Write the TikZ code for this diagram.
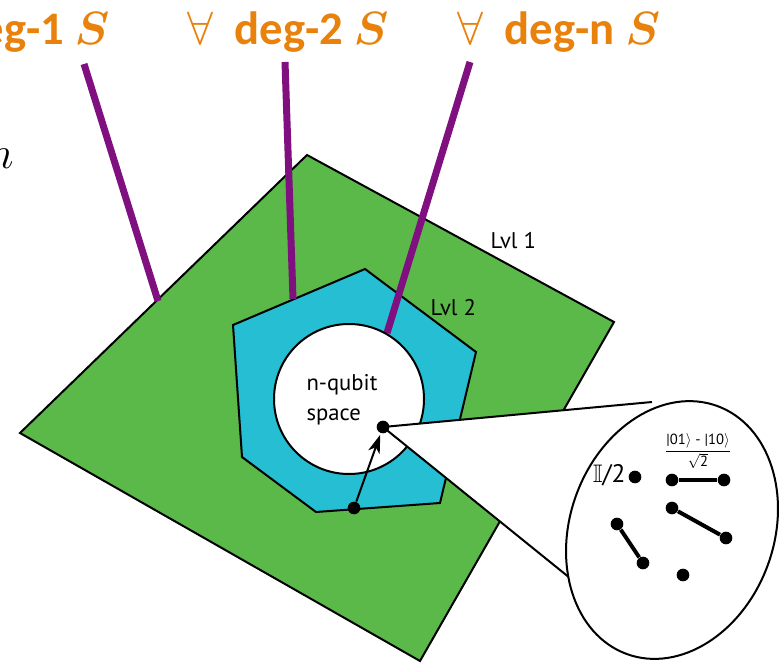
\documentclass[tikz,border=0pt]{standalone}
\usepackage{fix-cm}
\usepackage{amsmath,amssymb}
\usepackage{fontspec}
\setmainfont{Carlito}
\newfontfamily\lblfont{PT Sans}
\usetikzlibrary{arrows.meta}

\definecolor{lvlgreen}{RGB}{91,185,74}
\definecolor{lvlcyan}{RGB}{37,190,210}
\definecolor{degpurple}{RGB}{128,16,128}
\definecolor{degorange}{RGB}{232,130,12}

\tikzset{every picture/.style={line width=0.75pt}}
\tikzset{
  shapeline/.style={draw=black, line width=1.5pt, line join=miter},
  degline/.style={draw=degpurple, line width=5.25pt},
  deglabel/.style={text=degorange, anchor=base, inner sep=0pt,
    font=\fontsize{35}{40}\selectfont\bfseries},
  lvllabel/.style={anchor=base west, inner sep=0pt,
    font=\lblfont\fontsize{17}{21}\selectfont},
  qdot/.style={circle, fill=black, inner sep=0pt, minimum size=9.5pt},
  pairlink/.style={line width=3pt},
}

\begin{document}
\begin{tikzpicture}[x=0.75pt,y=0.75pt,yscale=-1,xscale=1]
\useasboundingbox (0,0) rectangle (781,663);
\clip (0,0) rectangle (781,663);

%Shape: Lvl 1 plane
\draw [shapeline, fill=lvlgreen] (307,155) -- (614,322) -- (420,661) -- (20,433) -- cycle ;

%Shape: Lvl 2 hexagon
\draw [shapeline, fill=lvlcyan] (233,325) -- (365,269) -- (476,352) -- (440,503) -- (316,512) -- (242,457) -- cycle ;

%Straight Lines: deg lines
\draw [degline] (84,64) -- (158,301) ;
\draw [degline] (285,62) -- (293,299) ;
\draw [degline] (470,62) -- (387,333) ;

%Shape: n-qubit space
\draw [shapeline, fill=white] (349,399) circle [radius=75] ;

%Magnifier
\coordinate (focus) at (383,427) ;
\coordinate (lens) at (672,530) ;
\coordinate (rimup) at (652,402) ;
\coordinate (rimlow) at (612,612) ;
\fill [white] (focus) -- (rimup) -- (lens) -- (rimlow) -- cycle ;
\draw [line width=1.5pt] (rimup) -- (focus) -- (rimlow) ;
\draw [shapeline, fill=white, rotate around={20:(lens)}] (lens) ellipse [x radius=102, y radius=132] ;

%Dots and arrow
\node [qdot] (state) at (focus) {} ;
\node [qdot] (start) at (354,508) {} ;
\draw [line width=1.5pt, -{Stealth[length=14pt, width=9pt, inset=4pt]}, shorten >=1pt] (start) -- (state) ;

%Inside the magnifier
\node [qdot] (mixed) at (635,477) {} ;
\node [qdot] (sa) at (672,480) {} ;
\node [qdot] (sb) at (724,480) {} ;
\node [qdot] (pa) at (672,508) {} ;
\node [qdot] (pb) at (726,538) {} ;
\node [qdot] (qa) at (617,524) {} ;
\node [qdot] (qb) at (643,563) {} ;
\node [qdot] (lone) at (683,575) {} ;
\draw [pairlink] (sa) -- (sb) ;
\draw [pairlink] (pa) -- (pb) ;
\draw [pairlink] (qa) -- (qb) ;

% Text Node
\node [anchor=base east, inner sep=0pt, font=\lblfont\fontsize{19}{23}\selectfont] (mixlabel) at (626,482) {$\mathbb{I}$/2};
% Text Node
\node [inner sep=0pt, font=\lblfont\fontsize{11}{13}\selectfont] (singlet) at (698,451)
  {$\dfrac{\text{|01}\rangle\text{ - |10}\rangle}{\sqrt{\text{2}}}$};

% Text Node
\node [deglabel] (deg1) at (9,45) {{\mdseries$\forall$}\hspace{0.45em}deg-1 {\boldmath$S$}};
% Text Node
\node [deglabel] (deg2) at (288,45) {{\mdseries$\forall$}\hspace{0.45em}deg-2 {\boldmath$S$}};
% Text Node
\node [deglabel] (degn) at (559,45) {{\mdseries$\forall$}\hspace{0.45em}deg-n {\boldmath$S$}};
% Text Node
\node [anchor=base east, inner sep=0pt, font=\fontsize{34}{40}\selectfont] (nlabel) at (14,168) {$n$};

% Text Node
\node [lvllabel] (lvl1) at (490,248) {Lvl 1};
% Text Node
\node [lvllabel] (lvl2) at (430,315) {Lvl 2};
% Text Node
\node [lvllabel, align=left] (space) at (306,420) {n-qubit\\[1pt]space};

\end{tikzpicture}
\end{document}
